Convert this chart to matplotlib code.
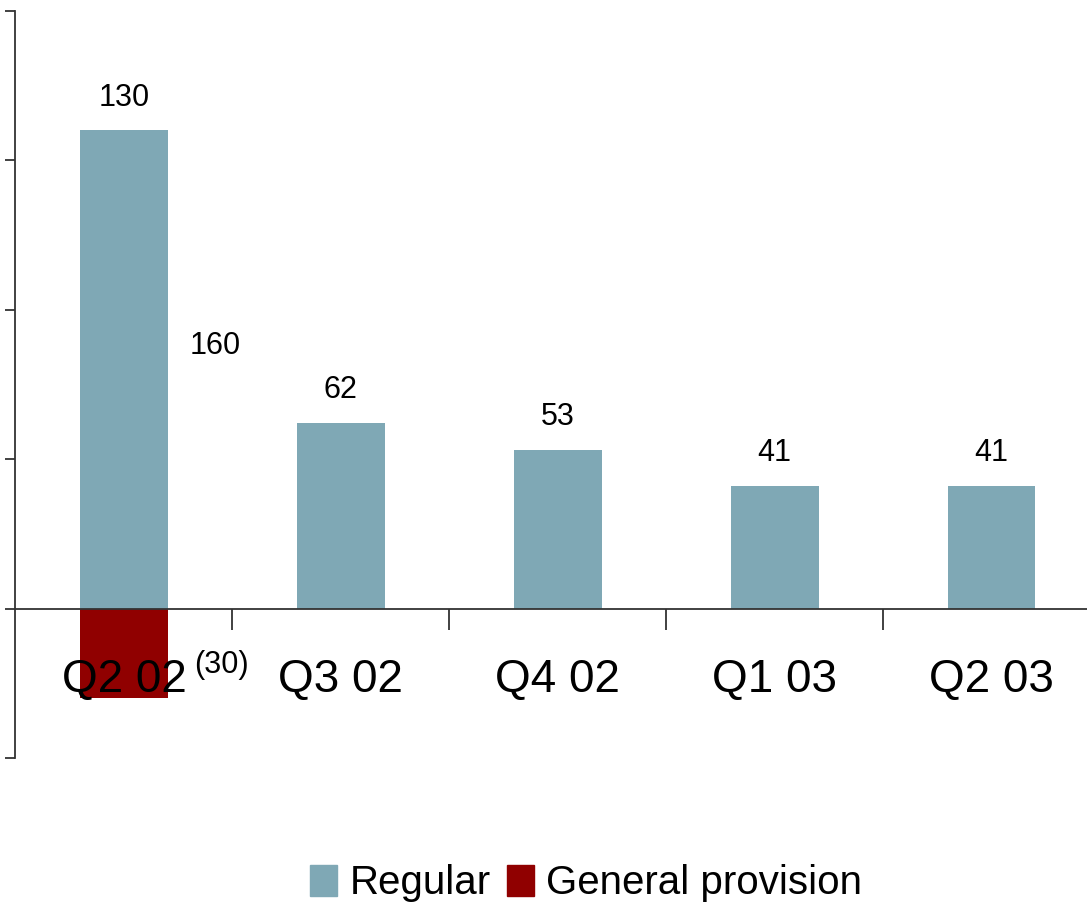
import matplotlib.pyplot as plt
from matplotlib.patches import Patch

plt.rcParams['font.family'] = ['Liberation Sans', 'DejaVu Sans']

quarters = ['Q2 02', 'Q3 02', 'Q4 02', 'Q1 03', 'Q2 03']
regular = [160, 62, 53, 41, 41]
general_provision = [-30, 0, 0, 0, 0]
totals = [r + g for r, g in zip(regular, general_provision)]

blue = '#7FA8B5'
red = '#900000'
axis_col = '#333333'

fig = plt.figure(figsize=(10.87, 9.06), dpi=100)
ax = fig.add_axes([0.0138, 0.1634, 0.9862, 0.8245])

x = range(len(quarters))
ax.bar(x, regular, width=0.405, color=blue, zorder=2)
ax.bar(x, general_provision, width=0.405, color=red, zorder=2)

ax.set_xlim(-0.502, 4.44)
ax.set_ylim(-50, 200)

# total on top of each bar
for i, (r, t) in enumerate(zip(regular, totals)):
    ax.text(i, r + 6, str(t), ha='center', va='bottom', fontsize=22)

# split for the first quarter: gross regular and provision
ax.text(0.42, 88, str(regular[0]), ha='center', va='center', fontsize=22)
ax.text(0.45, -19, '(%d)' % abs(general_provision[0]), ha='center',
        va='center', fontsize=22)

for i, q in enumerate(quarters):
    ax.text(i, -24, q, ha='center', va='center', fontsize=33)

ax.spines['top'].set_visible(False)
ax.spines['right'].set_visible(False)
ax.spines['bottom'].set_position(('data', 0))
for s in ('left', 'bottom'):
    ax.spines[s].set_color(axis_col)
    ax.spines[s].set_linewidth(1.3)

ax.set_yticks(range(-50, 201, 50))
ax.set_yticklabels([])
ax.tick_params(axis='y', direction='out', length=7, width=1.3, color=axis_col)
ax.set_xticks([0.5, 1.5, 2.5, 3.5])
ax.set_xticklabels([])
ax.tick_params(axis='x', direction='out', length=15, width=1.3, color=axis_col)

handles = [Patch(color=blue, label='Regular'),
           Patch(color=red, label='General provision')]
fig.legend(handles=handles, loc='center', bbox_to_anchor=(0.539, 0.025),
           ncol=2, frameon=False, fontsize=29, handlelength=0.68,
           handleheight=0.8, handletextpad=0.3, columnspacing=0.4)

fig.savefig('out.png', dpi=100)
